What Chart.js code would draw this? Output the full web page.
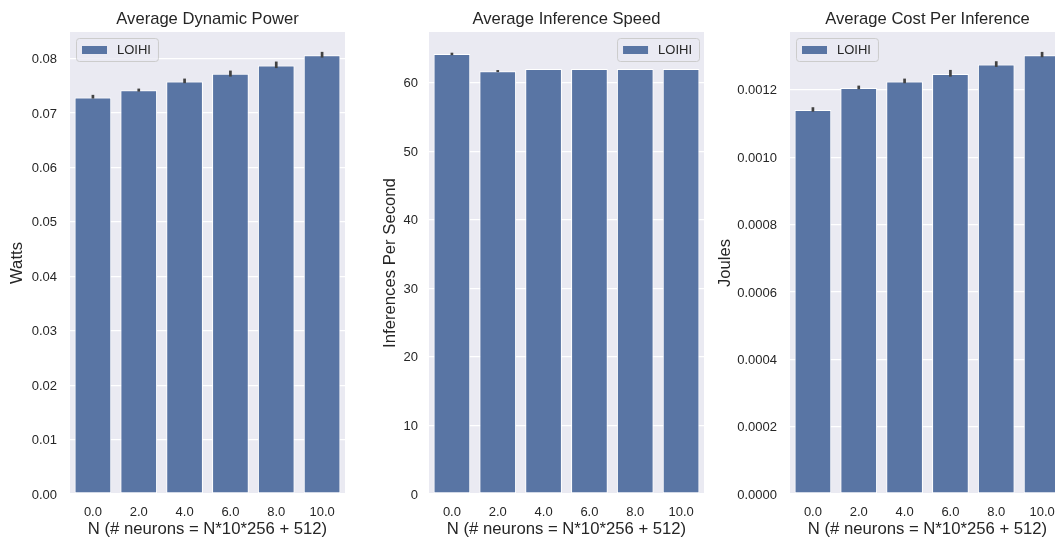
<!DOCTYPE html>
<html>
<head>
<meta charset="utf-8">
<title>LOIHI averages</title>
<script src="https://cdn.jsdelivr.net/npm/chart.js@4.4.1/dist/chart.umd.min.js"></script>
<style>
  html, body { margin: 0; padding: 0; background: #fff; overflow: hidden; }
  #wrap { position: relative; width: 1055px; height: 539px; overflow: hidden; }
  canvas { position: absolute; top: 0; }
</style>
</head>
<body>
<div id="wrap">
  <canvas id="powerChart" width="360" height="539" style="left:0px;width:360px;height:539px"></canvas>
  <canvas id="speedChart" width="360" height="539" style="left:359px;width:360px;height:539px"></canvas>
  <canvas id="costChart" width="360" height="539" style="left:713px;width:360px;height:539px"></canvas>
</div>
<script>
// Data
const categories = ['0.0', '2.0', '4.0', '6.0', '8.0', '10.0'];
const seriesLabel = 'LOIHI';
const xTitle = 'N (# neurons = N*10*256 + 512)';

const powerValues = [0.07285, 0.07421, 0.07579, 0.07721, 0.07873, 0.08064];
const powerLow    = [0.07267, 0.07395, 0.07550, 0.07671, 0.07827, 0.08020];
const powerHigh   = [0.07335, 0.07450, 0.07634, 0.07781, 0.07947, 0.08125];

const speedValues = [64.19, 61.67, 62.0, 62.0, 62.0, 62.0];
const speedLow    = [64.02, 61.55, 62.0, 62.0, 62.0, 62.0];
const speedHigh   = [64.38, 61.85, 62.0, 62.0, 62.0, 62.0];

const costValues = [0.0011406, 0.0012059, 0.0012247, 0.0012475, 0.0012752, 0.0013030];
const costLow    = [0.0011355, 0.0012021, 0.0012199, 0.0012395, 0.0012683, 0.0012971];
const costHigh   = [0.0011486, 0.0012128, 0.0012336, 0.0012594, 0.0012852, 0.0013129];

const FONT = '"Liberation Sans", Arial, Helvetica, sans-serif';
const TEXT = '#262626';
const BAR = '#5975a4';

Chart.defaults.font.family = FONT;
Chart.defaults.color = TEXT;

// seaborn style error bars
const errorBars = {
    id: 'errorBars',
    afterDatasetsDraw(chart) {
        const ds = chart.data.datasets[0];
        const x = chart.scales.x, y = chart.scales.y;
        const ctx = chart.ctx;
        ctx.save();
        ctx.strokeStyle = '#424242';
        ctx.lineWidth = 2.7;
        ctx.lineCap = 'butt';
        ds.errLow.forEach((lo, i) => {
            const hi = ds.errHigh[i];
            if (hi - lo <= 0) return;
            const px = x.getPixelForValue(i);
            ctx.beginPath();
            ctx.moveTo(px, y.getPixelForValue(lo));
            ctx.lineTo(px, y.getPixelForValue(hi));
            ctx.stroke();
        });
        ctx.restore();
    }
};

// matplotlib-like framed legend inside the axes
const boxLegend = {
    id: 'boxLegend',
    afterDatasetsDraw(chart, args, opts) {
        const ds = chart.data.datasets[0];
        const area = chart.chartArea;
        const ctx = chart.ctx;
        ctx.save();
        ctx.font = '13px ' + FONT;
        const w = 41 + ctx.measureText(ds.label).width + 7;
        const h = 23;
        const bx = opts.align === 'right' ? area.right - 5 - w : area.left + 6;
        const by = area.top + 6;
        ctx.beginPath();
        ctx.roundRect(bx + 0.5, by + 0.5, w, h, 3);
        ctx.fillStyle = 'rgba(234,234,242,0.8)';
        ctx.fill();
        ctx.strokeStyle = '#cccccc';
        ctx.lineWidth = 1;
        ctx.stroke();
        ctx.fillStyle = ds.backgroundColor;
        ctx.fillRect(bx + 6, by + 8, 25, 8);
        ctx.fillStyle = TEXT;
        ctx.textBaseline = 'middle';
        ctx.fillText(ds.label, bx + 41, by + h / 2 + 0.5);
        ctx.restore();
    }
};

// axes background + title centred over the plot area (like matplotlib)
const plotBg = {
    id: 'plotBg',
    beforeDraw(chart) {
        const a = chart.chartArea;
        chart.ctx.save();
        chart.ctx.fillStyle = '#eaeaf2';
        chart.ctx.fillRect(a.left, a.top, a.right - a.left, a.bottom - a.top);
        chart.ctx.restore();
    },
    afterDraw(chart, args, opts) {
        const a = chart.chartArea;
        const ctx = chart.ctx;
        ctx.save();
        ctx.font = '16.6px ' + FONT;
        ctx.fillStyle = TEXT;
        ctx.textAlign = 'center';
        ctx.textBaseline = 'alphabetic';
        ctx.fillText(opts.text, (a.left + a.right) / 2, 24);
        ctx.restore();
    }
};

function makeChart(id, o) {
    return new Chart(document.getElementById(id), {
        type: 'bar',
        data: {
            labels: categories,
            datasets: [{
                label: seriesLabel,
                data: o.values,
                errLow: o.low,
                errHigh: o.high,
                backgroundColor: BAR,
                borderColor: '#ffffff',
                borderWidth: 1,
                borderSkipped: false,
                categoryPercentage: 1.0,
                barPercentage: 0.8
            }]
        },
        options: {
            responsive: false,
            devicePixelRatio: 1,
            animation: false,
            layout: { padding: { left: 0, right: o.rightPad, top: 32, bottom: 0 } },
            plugins: {
                legend: { display: false },
                tooltip: { enabled: false },
                title: { display: false },
                plotBg: { text: o.title },
                boxLegend: { align: o.legendAlign }
            },
            scales: {
                x: {
                    grid: { display: false, drawTicks: false },
                    border: { display: false },
                    ticks: { color: TEXT, font: { size: 13 }, padding: 10.5, maxRotation: 0 },
                    title: {
                        display: true,
                        text: xTitle,
                        color: TEXT,
                        font: { size: 16.7 },
                        padding: { top: 0, bottom: 0 }
                    },
                    afterFit(s) { s.height = 45; }
                },
                y: {
                    min: 0,
                    max: o.max,
                    grid: { color: '#ffffff', lineWidth: 1.3, drawTicks: false },
                    border: { display: false },
                    ticks: {
                        stepSize: o.step,
                        includeBounds: false,
                        color: TEXT,
                        font: { size: 13 },
                        padding: o.tickPad,
                        labelOffset: 1,
                        callback: v => v.toFixed(o.digits)
                    },
                    title: {
                        display: true,
                        text: o.yTitle,
                        color: TEXT,
                        font: { size: 16.7 },
                        padding: { top: o.titlePad, bottom: 0 }
                    },
                    afterFit(s) { s.width = o.yWidth; }
                }
            }
        },
        plugins: [plotBg, errorBars, boxLegend]
    });
}

makeChart('powerChart', {
    title: 'Average Dynamic Power', yTitle: 'Watts',
    values: powerValues, low: powerLow, high: powerHigh,
    max: 0.0849, step: 0.01, digits: 2,
    yWidth: 70, rightPad: 15, tickPad: 13, titlePad: 7.5, legendAlign: 'left'
});

makeChart('speedChart', {
    title: 'Average Inference Speed', yTitle: 'Inferences Per Second',
    values: speedValues, low: speedLow, high: speedHigh,
    max: 67.4, step: 10, digits: 0,
    yWidth: 70, rightPad: 15, tickPad: 11, titlePad: 21, legendAlign: 'right'
});

makeChart('costChart', {
    title: 'Average Cost Per Inference', yTitle: 'Joules',
    values: costValues, low: costLow, high: costHigh,
    max: 0.001372, step: 0.0002, digits: 4,
    yWidth: 77, rightPad: 8, tickPad: 13, titlePad: 2, legendAlign: 'left'
});
</script>
</body>
</html>
